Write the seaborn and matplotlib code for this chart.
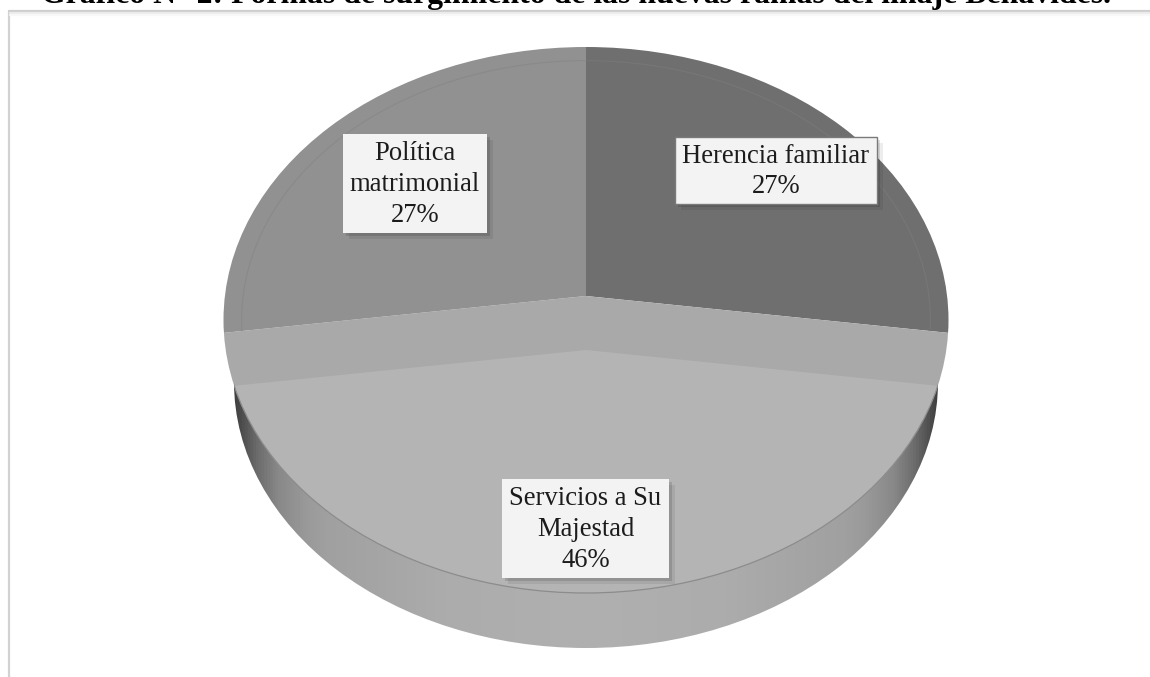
import numpy as np
import matplotlib
matplotlib.use('Agg')
import matplotlib.pyplot as plt
from matplotlib.colors import LinearSegmentedColormap
from matplotlib.patches import Ellipse, Rectangle
import seaborn as sns

# Datos del gráfico
categorias = ['Herencia familiar', 'Servicios a Su\nMajestad', 'Política\nmatrimonial']
valores = [27, 46, 27]
colores = ['#6f6f6f', '#a9a9a9', '#919191']
titulo = 'Gráfico N° 2: Formas de surgimiento de las nuevas ramas del linaje Benavides.'

# Posición de las cajas de etiquetas en píxeles (x0, y0, x1, y1)
cajas = [(675, 137, 877, 204), (502, 479, 669, 578), (343, 134, 487, 233)]
bordes_caja = ['#7a7a7a', 'none', 'none']

sns.set_theme(style='white')
plt.rcParams['font.family'] = ['Liberation Serif', 'DejaVu Serif']

W, H = 1150, 677
CX, CY = 586, 296      # vértice de las porciones
A, B = 362.5, 292      # píxeles por unidad de la tarta
A_CANTO, B_CANTO, CY_CANTO = 352, 266, 382


def ux(px):
    return (px - CX) / A


def uy(py):
    return (CY - py) / B


fig = plt.figure(figsize=(W / 100, H / 100), dpi=100, facecolor='white')
ax = fig.add_axes([0, 0, 1, 1])
ax.set_facecolor('none')

# Contorno de la cara superior y del canto
cara = Ellipse((0, uy(320)), 2, 2 * 273 / B, facecolor='none', edgecolor='none')
canto = Ellipse((0, uy(CY_CANTO)), 2 * A_CANTO / A, 2 * B_CANTO / B, facecolor='none', edgecolor='none')
ax.add_patch(cara)
ax.add_patch(canto)

# Canto con degradado
cmap_canto = LinearSegmentedColormap.from_list('canto', [
    (0.0, '#404040'), (0.03, '#6a6a6a'), (0.06, '#888888'), (0.1, '#999999'), (0.13, '#a0a0a0'),
    (0.3, '#acacac'), (0.5, '#b0b0b0'), (0.7, '#acacac'), (0.87, '#a0a0a0'), (0.9, '#999999'),
    (0.94, '#888888'), (0.97, '#6a6a6a'), (1.0, '#404040')])
img = ax.imshow(np.linspace(0, 1, 512)[None, :], cmap=cmap_canto, aspect='auto',
                extent=(ux(CX - A_CANTO), ux(CX + A_CANTO), uy(650), uy(350)), zorder=0)
img.set_clip_path(canto)

# Porciones superiores y franja
wedges, _ = ax.pie(valores, colors=sns.color_palette(colores), radius=1.2,
                   startangle=90, counterclock=False, wedgeprops={'linewidth': 0})
for w in wedges:
    w.set_clip_on(True)
    w.set_clip_path(cara)

# Cara clara de la porción mayor, desplazada hacia abajo
wedges2, _ = ax.pie(valores, colors=['none', '#b4b4b4', 'none'], radius=1.2, startangle=90,
                    counterclock=False, center=(0, uy(350)), wedgeprops={'linewidth': 0})
for w in wedges2:
    w.set_clip_on(True)
    w.set_clip_path(cara)

# Biseles: arco interior tenue y borde de la cara
interior = Ellipse((0, uy(320)), 2 * 0.95, 2 * 0.95 * 273 / B, facecolor='none',
                   edgecolor='#808080', linewidth=0.8, alpha=0.45, zorder=3)
ax.add_patch(interior)
interior.set_clip_path(wedges[0])
arco2 = Ellipse((0, uy(320)), 2 * 0.95, 2 * 0.95 * 273 / B, facecolor='none',
                edgecolor='#808080', linewidth=0.8, alpha=0.45, zorder=3)
ax.add_patch(arco2)
arco2.set_clip_path(wedges[2])
borde = Ellipse((0, uy(320)), 2, 2 * 273 / B, facecolor='none',
                edgecolor='#8c8c8c', linewidth=0.9, zorder=3)
ax.add_patch(borde)
borde.set_clip_path(canto)

ax.set_aspect('auto')
ax.set_xlim(ux(0), ux(W))
ax.set_ylim(uy(H), uy(0))
ax.axis('off')

# Capa en píxeles para marco, etiquetas y título
capa = fig.add_axes([0, 0, 1, 1])
capa.set_xlim(0, W)
capa.set_ylim(H, 0)
capa.axis('off')
capa.patch.set_alpha(0)

capa.plot([8.5, 8.5], [11, H], color='#d2d2d2', lw=1.6)
capa.plot([8.5, W], [11, 11], color='#cfcfcf', lw=1.6)
capa.plot([10, W], [13, 13], color='#ececec', lw=1.5)
capa.plot([10, W], [15, 15], color='#f8f8f8', lw=1.5)

for cat, val, (x0, y0, x1, y1), borde_caja in zip(categorias, valores, cajas, bordes_caja):
    # Sombra difusa en dos capas
    for d, alfa in [(6, 0.07), (3, 0.12)]:
        capa.add_patch(Rectangle((x0 + d, y0 + d), x1 - x0, y1 - y0, facecolor='black',
                                 alpha=alfa, edgecolor='none', zorder=4))
    capa.add_patch(Rectangle((x0, y0), x1 - x0, y1 - y0, facecolor='#f3f3f3',
                             edgecolor=borde_caja, linewidth=1.0, zorder=5))
    capa.text((x0 + x1) / 2, (y0 + y1) / 2 + 1, f'{cat}\n{val}%', ha='center', va='center',
              fontsize=19.2, color='#1c1c1c', linespacing=1.3, zorder=6)

capa.text(576, 3.5, titulo, ha='center', va='baseline', fontsize=22.9,
          fontweight='bold', color='black', clip_on=False)

fig.savefig('out.png', dpi=100)
